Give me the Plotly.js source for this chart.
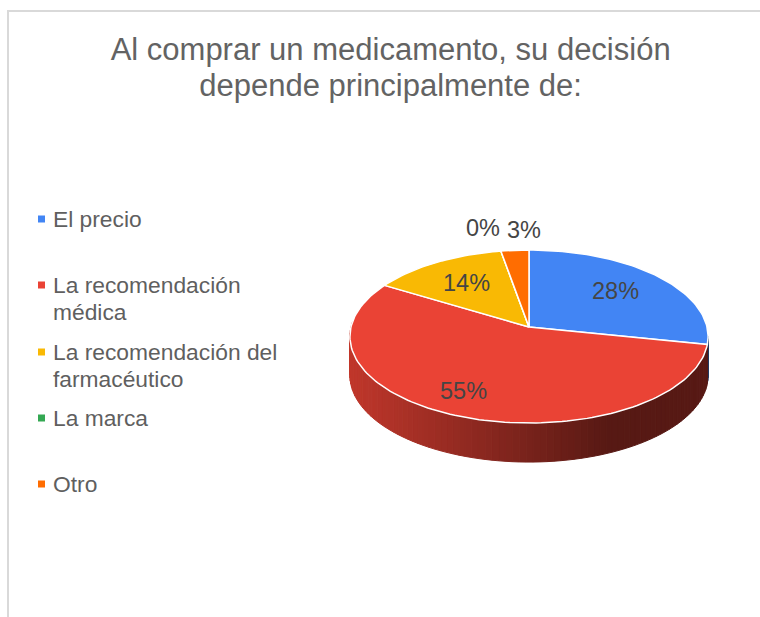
<!DOCTYPE html>
<html>
<head>
<meta charset="utf-8">
<script src="https://cdn.plot.ly/plotly-3.0.1.min.js"></script>
<style>html,body{margin:0;padding:0;background:#fff}#c{width:760px;height:617px}</style>
</head>
<body>
<div id="c"></div>
<script>
const categories = ['El precio', 'La recomendación<br>médica', 'La recomendación del<br>farmacéutico', 'La marca', 'Otro'];
const values = [28.2, 55.4, 13.6, 0, 2.8];
const colors = ['#4285f4', '#ea4335', '#f9b904', '#34a853', '#ff6d01'];
const chartTitle = 'Al comprar un medicamento, su decisión<br>depende principalmente de:';

const legendRowY = [219, 285, 352, 418, 484];
const labelX = [615, 463, 466, 483, 524];
const labelY = [291, 391, 283, 228, 230];

// Tilted-disc projection used by the pie, in axis units
const CX = 529, CY = 327, RX = 178, RY = 85.5, B = 0.11, DEPTH = 39;
const project = (deg, r) => {
  const t = deg * Math.PI / 180, u = r * Math.sin(t), v = r * Math.cos(t), d = 1 + B * v;
  return [CX + RX * u / d, CY - RY * v / d];
};
const total = values.reduce((a, b) => a + b, 0);
let acc = 0;
const slices = values.map((v, i) => {
  const a0 = acc / total * 360; acc += v;
  return { a0, a1: acc / total * 360, color: colors[i], name: categories[i].replace('<br>', ' '), value: v };
});

const rgb = h => [1, 3, 5].map(i => parseInt(h.substr(i, 2), 16));
const shadeAt = x => {
  // lighter on the left of the wall, darkest on the right
  const s = Math.min(1, Math.max(0, (x - 350) / 260));
  return 0.82 - 0.45 * s;
};

const traces = [];
// side wall
slices.forEach(s => {
  const from = Math.max(s.a0, 96), to = Math.min(s.a1, 274);
  if (to <= from) return;
  const n = Math.ceil((to - from) / 2);
  for (let k = 0; k < n; k++) {
    const a = from + (to - from) * k / n, b = from + (to - from) * (k + 1) / n;
    const p = project(a, 1), q = project(b, 1);
    const f = shadeAt((p[0] + q[0]) / 2);
    const c = 'rgb(' + rgb(s.color).map(x => Math.round(x * f)).join(',') + ')';
    traces.push({
      type: 'scatter', mode: 'lines', fill: 'toself', fillcolor: c,
      x: [p[0], q[0], q[0], p[0], p[0]],
      y: [p[1], q[1], q[1] + DEPTH, p[1] + DEPTH, p[1]],
      line: { color: c, width: 1 }, hoverinfo: 'skip', showlegend: false
    });
  }
});
// top face
slices.forEach(s => {
  const xs = [CX], ys = [CY];
  const n = Math.max(2, Math.ceil((s.a1 - s.a0) / 1.5));
  for (let k = 0; k <= n; k++) {
    const p = project(s.a0 + (s.a1 - s.a0) * k / n, 1);
    xs.push(p[0]); ys.push(p[1]);
  }
  xs.push(CX); ys.push(CY);
  traces.push({
    type: 'scatter', mode: 'lines', fill: 'toself', fillcolor: s.color,
    x: xs, y: ys, line: { color: '#ffffff', width: 1.5 },
    name: s.name, text: s.name + ': ' + Math.round(s.value) + '%', hoverinfo: 'text', hoveron: 'fills', showlegend: false
  });
});
// legend swatches
traces.push({
  type: 'scatter', mode: 'markers', x: legendRowY.map(() => 41.5), y: legendRowY,
  marker: { symbol: 'square', size: 7, color: colors, line: { width: 0 } },
  hoverinfo: 'skip', showlegend: false
});

const annotations = [];
categories.forEach((c, i) => {
  annotations.push({
    xref: 'x', yref: 'y', x: 51, y: legendRowY[i] - 15, text: c, showarrow: false,
    xanchor: 'left', yanchor: 'top', align: 'left',
    font: { family: 'Liberation Sans, Arial, sans-serif', size: 22.8, color: '#5f5f5f' }
  });
});
values.forEach((v, i) => {
  annotations.push({
    xref: 'x', yref: 'y', x: labelX[i], y: labelY[i], text: Math.round(v) + '%', showarrow: false,
    xanchor: 'center', yanchor: 'middle',
    font: { family: 'Liberation Sans, Arial, sans-serif', size: 23.5, color: '#454545' }
  });
});

const layout = {
  width: 760, height: 617,
  margin: { l: 0, r: 0, t: 0, b: 0 },
  paper_bgcolor: '#ffffff', plot_bgcolor: '#ffffff',
  title: {
    text: chartTitle, x: 0.514, xanchor: 'center', y: 0.903, yanchor: 'bottom',
    yref: 'container',
    font: { family: 'Liberation Sans, Arial, sans-serif', size: 31, color: '#636363' }
  },
  xaxis: { range: [0, 760], visible: false, fixedrange: true },
  yaxis: { range: [617, 0], visible: false, fixedrange: true },
  showlegend: false,
  annotations,
  shapes: [
    { type: 'line', xref: 'x', yref: 'y', x0: 8, x1: 8, y0: 617, y1: 11, line: { color: '#d9d9d9', width: 2 } },
    { type: 'line', xref: 'x', yref: 'y', x0: 7, x1: 760, y0: 11, y1: 11, line: { color: '#d9d9d9', width: 2 } }
  ]
};
Plotly.newPlot('c', traces, layout, { displayModeBar: false }).then(() => {
  // tighter line spacing on the multi-line texts
  document.querySelectorAll('.gtitle .line, .annotation-text .line').forEach(t => {
    const dy = t.getAttribute('dy');
    if (dy && parseFloat(dy) > 0) t.setAttribute('dy', '1.17em');
  });
});
</script>
</body>
</html>
